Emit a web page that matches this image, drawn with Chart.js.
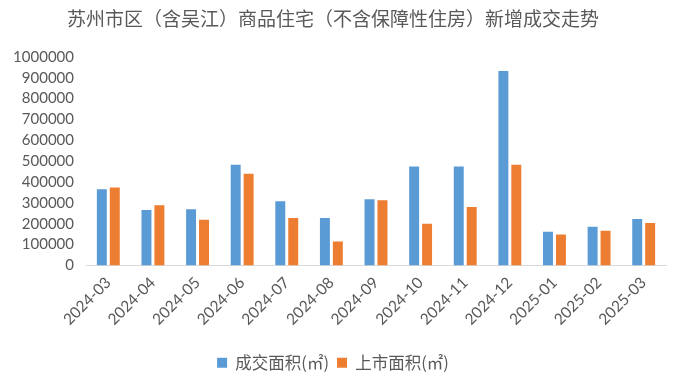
<!DOCTYPE html>
<html>
<head>
<meta charset="utf-8">
<script src="https://cdn.jsdelivr.net/npm/chart.js@4/dist/chart.umd.min.js"></script>
<style>
html,body{margin:0;padding:0;background:#fff;}
#wrap{width:681px;height:381px;}
</style>
</head>
<body>
<div id="wrap"><canvas id="c" width="681" height="381"></canvas></div>
<script>
const categories = ["2024-03","2024-04","2024-05","2024-06","2024-07","2024-08","2024-09","2024-10","2024-11","2024-12","2025-01","2025-02","2025-03"];
const dealArea = [365000,266000,270000,483000,308000,228000,318000,474000,474000,932000,162000,186000,223000];
const supplyArea = [374000,289000,219000,440000,228000,115000,313000,200000,280000,483000,148000,167000,204000];
const seriesNames = ["成交面积(㎡)","上市面积(㎡)"];
const titleText = "苏州市区（含吴江）商品住宅（不含保障性住房）新增成交走势";
const yMax = 1000000, yStep = 100000;

const gray = "#595959";
const latin = "Lato, 'Noto Sans CJK SC', sans-serif";
const cjk = "'Noto Sans CJK SC', sans-serif";

new Chart(document.getElementById('c'), {
  type: 'bar',
  data: {
    labels: categories,
    datasets: [
      {label: seriesNames[0], data: dealArea, backgroundColor: '#5B9BD5', borderWidth: 0},
      {label: seriesNames[1], data: supplyArea, backgroundColor: '#ED7D31', borderWidth: 0}
    ]
  },
  options: {
    responsive: false,
    animation: false,
    devicePixelRatio: 1,
    categoryPercentage: 0.58,
    barPercentage: 0.77,
    layout: {padding: {left: 0, right: 15, top: 0, bottom: 0}},
    plugins: {
      title: {
        display: true, text: titleText, color: gray,
        font: {family: cjk, size: 19, weight: 'normal'},
        padding: {top: 7, bottom: 27}
      },
      legend: {
        position: 'bottom',
        labels: {
          color: gray, boxWidth: 10, boxHeight: 10, padding: 8,
          font: {family: cjk, size: 16.5}
        }
      },
      tooltip: {enabled: false}
    },
    scales: {
      x: {
        grid: {display: false, drawTicks: false},
        border: {display: true, color: '#D9D9D9', width: 1},
        ticks: {color: gray, font: {family: latin, size: 15.5}, minRotation: 45, maxRotation: 45, padding: 8, autoSkip: false},
        afterFit: s => { s.height = 81; }
      },
      y: {
        min: 0, max: yMax,
        grid: {display: false, drawTicks: false},
        border: {display: false},
        ticks: {stepSize: yStep, autoSkip: false, color: gray, font: {family: latin, size: 15}, padding: 12,
          callback: v => String(v)},
        afterFit: s => { s.width = 86; }
      }
    }
  }
});
</script>
</body>
</html>
